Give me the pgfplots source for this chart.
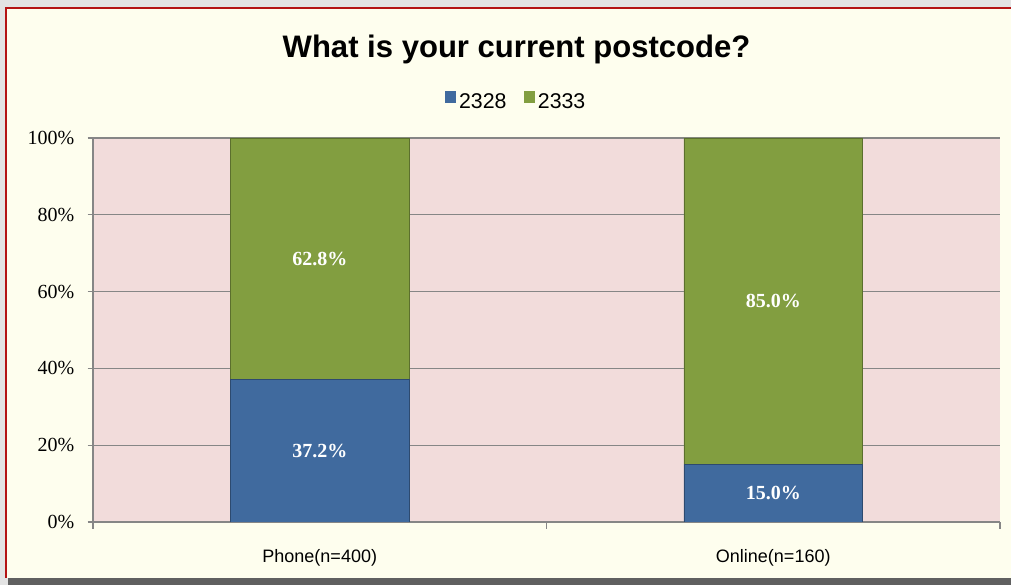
\documentclass[border=0pt]{standalone}
\usepackage{pgfplots}
\pgfplotsset{compat=1.18}
\usepackage{fontspec}
\setmainfont{Liberation Serif}
\newfontfamily\arial{Liberation Sans}
\definecolor{bg}{RGB}{254,254,238}
\definecolor{plotbg}{RGB}{242,220,219}
\definecolor{gridgray}{RGB}{134,134,134}
\definecolor{barblue}{RGB}{64,106,158}
\definecolor{bargreen}{RGB}{130,158,64}
\definecolor{framered}{RGB}{180,20,20}
\begin{document}
\begin{tikzpicture}
\path[use as bounding box] (0,0) rectangle (758.25pt,438.75pt);
\fill[gray!22] (0,0) rectangle (758.25pt,438.75pt);
\fill[gray!75!black] (6pt,0) rectangle (770pt,6pt);
\fill[bg] (4.5pt,5.25pt) rectangle (770pt,432.75pt);
\draw[framered, line width=1.5pt] (4.5pt,5.25pt) -- (4.5pt,432.75pt) -- (770pt,432.75pt);
\begin{axis}[
  at={(69.75pt,47.25pt)}, anchor=south west,
  scale only axis, width=680.25pt, height=288pt,
  ybar stacked, bar width=134pt,
  xmin=-0.5, xmax=1.5, ymin=0, ymax=100,
  axis background/.style={fill=plotbg},
  axis x line*=bottom, axis y line*=left,
  axis line style={draw=gridgray, line width=0.8pt, -},
  ytick={0,20,40,60,80,100},
  yticklabel={\pgfmathprintnumber{\tick}\%},
  /pgf/number format/assume math mode=true,
  y tick label style={font=\fontsize{15}{17}\selectfont, xshift=-6.5pt},
  ymajorgrids, grid style={draw=gridgray, line width=0.8pt},
  tick align=outside, major tick length=4pt, minor tick length=5pt,
  tick style={draw=gridgray, line width=0.8pt},
  xtick={0,1}, xticklabels={Phone(n=400),Online(n=160)},
  major x tick style={draw=none},
  minor xtick={-0.5,0.5,1.5},
  x tick label style={font=\arial\fontsize{13.5}{16}\selectfont, yshift=-13pt},
  title={What is your current postcode?},
  title style={at={(0.467,1.209)}, anchor=center, font=\arial\bfseries\fontsize{23.3}{26}\selectfont},
  legend style={at={(0.467,1.094)}, anchor=center, draw=none, fill=none,
    font=\arial\fontsize{16}{19}\selectfont,
    /tikz/every even column/.append style={column sep=11pt}},
  legend columns=2,
  legend image code/.code={\fill[#1,draw=none] (0pt,-0.5pt) rectangle (8.5pt,8pt);},
  point meta=rawy,
  nodes near coords={\pgfmathprintnumber[fixed,fixed zerofill,precision=1]{\pgfplotspointmeta}\%},
  every node near coord/.append style={anchor=center, text=white, font=\bfseries\fontsize{15}{17}\selectfont},
]
\addplot[fill=barblue, draw=barblue!70!black] coordinates {(0,37.2) (1,15.0)};
\addplot[fill=bargreen, draw=bargreen!70!black] coordinates {(0,62.8) (1,85.0)};
\legend{2328,2333}
\end{axis}
\end{tikzpicture}
\end{document}
